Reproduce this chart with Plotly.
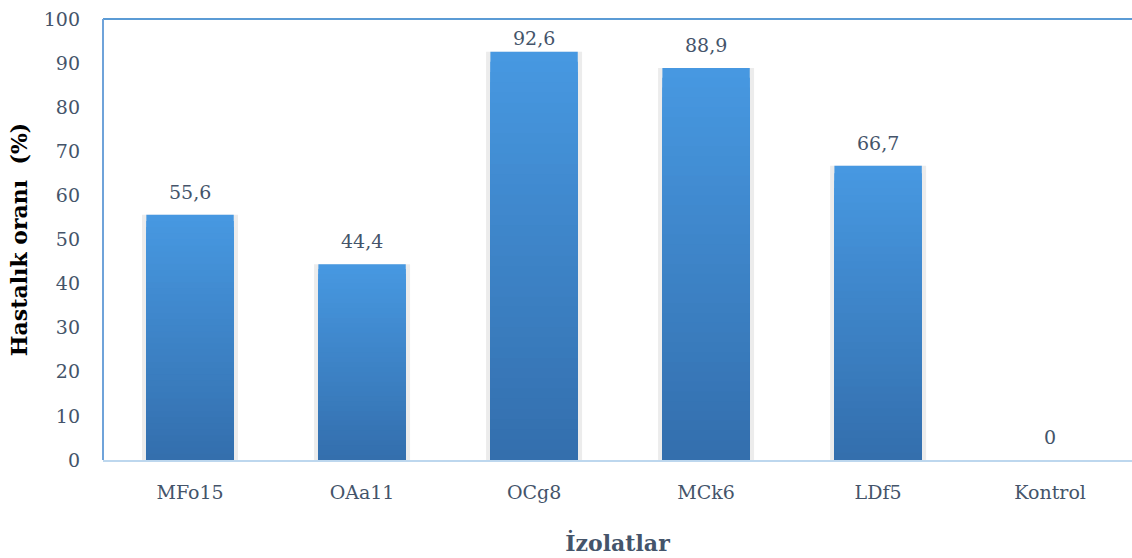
import plotly.graph_objects as go

# Disease rate per isolate (%)
isolates = ["MFo15", "OAa11", "OCg8", "MCk6", "LDf5", "Kontrol"]
disease_rate = [55.6, 44.4, 92.6, 88.9, 66.7, 0]
y_ticks = [0, 10, 20, 30, 40, 50, 60, 70, 80, 90, 100]

TEXT = "#44546A"
FONT = "DejaVu Serif"
TOP_RGB = (71, 152, 225)
BOTTOM_RGB = (51, 110, 172)
BAR_W = 0.508
STEPS = 40

fig = go.Figure()

# soft shadow behind each bar
fig.add_trace(go.Bar(
    x=isolates, y=disease_rate, width=BAR_W + 0.05,
    marker=dict(color="#ECECEC", line=dict(width=0)),
    hoverinfo="skip", showlegend=False,
))

# vertical gradient: overlaid bars, each shorter and darker than the last
for k in range(STEPS):
    f = k / STEPS
    r, g, b = (round(t + (bo - t) * f) for t, bo in zip(TOP_RGB, BOTTOM_RGB))
    fig.add_trace(go.Bar(
        x=isolates, y=[v * (1 - f) for v in disease_rate], width=BAR_W,
        marker=dict(color=f"rgb({r},{g},{b})", line=dict(width=0)),
        hoverinfo="skip", showlegend=False,
    ))

# value labels above the bars (kept inside the frame near the top)
for name, v in zip(isolates, disease_rate):
    fig.add_annotation(
        x=name, y=v, text=f"{v:g}".replace(".", ","), showarrow=False,
        yanchor="bottom", yshift=10 if v < 90 else 1,
        font=dict(family=FONT, size=19, color=TEXT),
    )

# plot frame: top and left edges
fig.add_shape(type="line", xref="paper", yref="paper", x0=0, x1=1, y0=1, y1=1,
              line=dict(color="#5B9BD5", width=2))
fig.add_shape(type="line", xref="paper", yref="paper", x0=0, x1=0, y0=0, y1=1,
              line=dict(color="#6FA3DA", width=2))

fig.update_layout(
    width=1132, height=558,
    margin=dict(l=103, r=0, t=19, b=98),
    barmode="overlay", bargap=0.49,
    plot_bgcolor="white", paper_bgcolor="white",
    showlegend=False,
    xaxis=dict(
        range=[-0.506, 5.476], showgrid=False, zeroline=False,
        showline=True, linecolor="#BDD7EE", linewidth=2,
        ticks="", ticklabelstandoff=14,
        tickfont=dict(family=FONT, size=19, color=TEXT),
        title=dict(text="<b>İzolatlar</b>", standoff=34,
                   font=dict(family=FONT, size=22, color=TEXT)),
    ),
    yaxis=dict(
        range=[0, 100], tickvals=y_ticks, showgrid=False, zeroline=False,
        showline=False, ticks="", ticklabelstandoff=22,
        tickfont=dict(family=FONT, size=19, color=TEXT),
        title=dict(text="<b>Hastalık oranı  (%)</b>", standoff=10,
                   font=dict(family=FONT, size=22, color="black")),
    ),
)

fig.write_html("out.html")
